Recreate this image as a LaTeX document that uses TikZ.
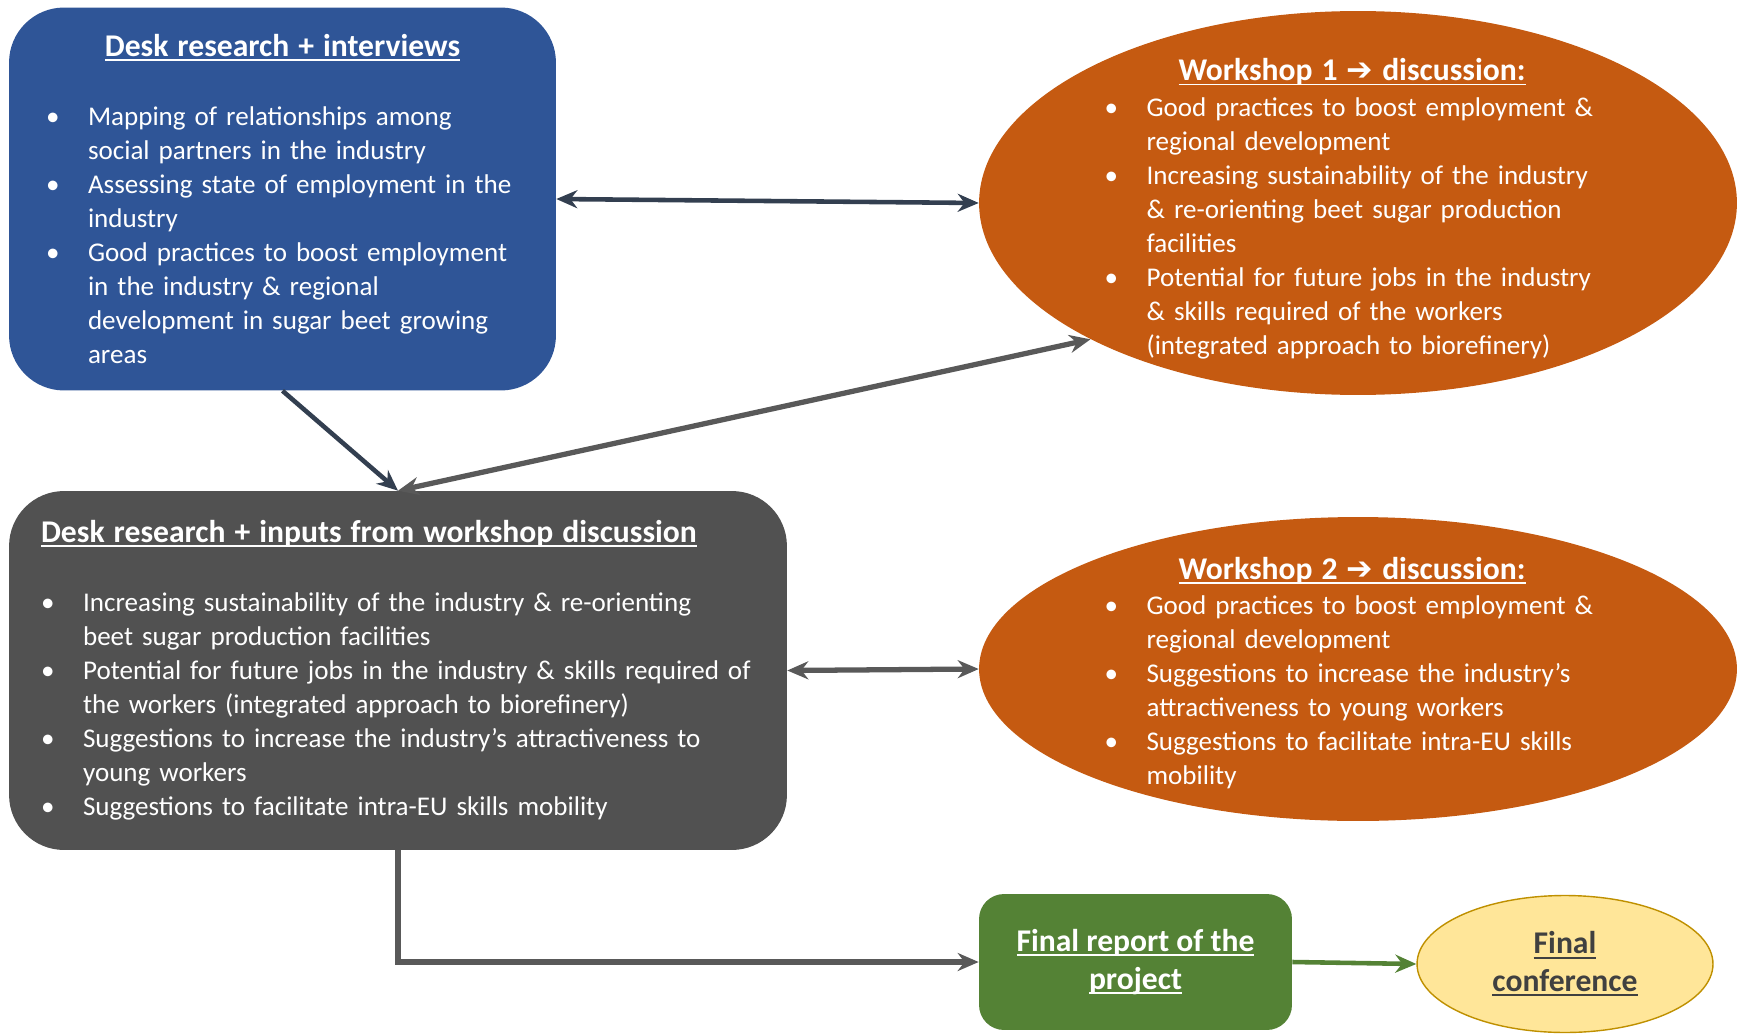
\documentclass[tikz,border=0pt]{standalone}
\usepackage{fontspec}
\setmainfont{Carlito}
\newfontfamily\dingfont{DejaVu Sans}
\usetikzlibrary{arrows.meta}
\usetikzlibrary{positioning}
\usetikzlibrary{shapes.geometric}

\definecolor{deskblue}{HTML}{2F5597}
\definecolor{wsorange}{HTML}{C55A11}
\definecolor{inputgray}{HTML}{515151}
\definecolor{reportgreen}{HTML}{548235}
\definecolor{confyellow}{HTML}{FFE699}
\definecolor{confborder}{HTML}{BF9000}
\definecolor{conftext}{HTML}{404040}
\definecolor{navyline}{HTML}{333F50}
\definecolor{grayline}{HTML}{595959}

\newcommand{\bodyfont}{\fontsize{15.4pt}{19.35pt}\selectfont}
\newcommand{\titlefont}{\fontsize{18pt}{21.5pt}\selectfont\bfseries}
\newcommand{\uln}[1]{\leavevmode\setbox0\hbox{#1}\rlap{\rule[-2.6pt]{\wd0}{1.1pt}}\box0}
\newcommand{\bul}[1]{\par\hangindent=0.84cm\hangafter=1\noindent\makebox[0.84cm][l]{\textbullet}#1\par}

\begin{document}
\begin{tikzpicture}[x=0.02cm, y=-0.02cm,
		>={Stealth[length=0.42cm,width=0.36cm]},
		box/.style={rounded corners=1.1cm, text=white, inner sep=0pt, font=\bodyfont},
		ws/.style={ellipse, fill=wsorange, minimum width=15.16cm, inner sep=0pt},
		wstext/.style={text=white, text width=9.9cm, inner sep=0pt, font=\bodyfont}]
		\useasboundingbox (0,0) rectangle (1737,1034);
		\path	(282.5,199)	node[box, fill=deskblue, minimum width=10.94cm, minimum height=7.66cm, text width=9.46cm] (desk) {%
				\makebox[\linewidth]{\titlefont\uln{Desk research + interviews}}\par\vspace{20pt}
				\bul{Mapping of relationships among\newline social partners in the industry}
				\bul{Assessing state of employment in the\newline industry}
				\bul{Good practices to boost employment\newline in the industry \& regional\newline development in sugar beet growing\newline areas}}
			(398,670.5)	node[box, fill=inputgray, minimum width=15.56cm, minimum height=7.18cm, text width=14.28cm] (inputs) {%
				{\titlefont\uln{Desk research + inputs from workshop discussion}}\par\vspace{20pt}
				\bul{Increasing sustainability of the industry \& re-orienting\newline beet sugar production facilities}
				\bul{Potential for future jobs in the industry \& skills required of\newline the workers (integrated approach to biorefinery)}
				\bul{Suggestions to increase the industry’s attractiveness to\newline young workers}
				\bul{Suggestions to facilitate intra-EU skills mobility}}
			(1358,203)	node[ws, minimum height=7.68cm] (ws1) {}
			(1358,669)	node[ws, minimum height=6.08cm] (ws2) {}
			(1135.5,962)	node[box, rounded corners=0.5cm, fill=reportgreen, minimum width=6.26cm, minimum height=2.72cm, font=\titlefont, align=center] (report) {\uln{Final report of the}\\\uln{project}}
			(1565,964)	node[ellipse, draw=confborder, line width=0.8pt, fill=confyellow, minimum width=5.92cm, minimum height=2.74cm, inner sep=0pt, text=conftext, font=\titlefont, align=center] (conf) {\uln{Final}\\\uln{conference}};
		\node[wstext] (ws1txt) at (1352,209) {%
			\makebox[\linewidth]{\titlefont\uln{Workshop 1 {\dingfont\bfseries ➔} discussion:}}\par\vspace{1pt}
			\bul{Good practices to boost employment \&\newline regional development}
			\bul{Increasing sustainability of the industry\newline \& re-orienting beet sugar production\newline facilities}
			\bul{Potential for future jobs in the industry\newline \& skills required of the workers\newline (integrated approach to biorefinery)}};
		\node[wstext] (ws2txt) at (1352,673) {%
			\makebox[\linewidth]{\titlefont\uln{Workshop 2 {\dingfont\bfseries ➔} discussion:}}\par\vspace{1pt}
			\bul{Good practices to boost employment \&\newline regional development}
			\bul{Suggestions to increase the industry’s\newline attractiveness to young workers}
			\bul{Suggestions to facilitate intra-EU skills\newline mobility}};
		\draw[<->, navyline, line width=2.6pt] (desk.east) to (ws1.west);
		\draw[->, navyline, line width=2.6pt] (desk.south) to (inputs.north);
		\draw[<->, grayline, line width=3pt] (inputs.north) to (ws1.207);
		\draw[<->, grayline, line width=3pt] (inputs.east) to (ws2.west);
		\draw[->, grayline, line width=3pt] (inputs.south) |- (report.west);
		\draw[->, reportgreen, line width=2.6pt] (report.east) to (conf.west);
	\end{tikzpicture}
\end{document}
